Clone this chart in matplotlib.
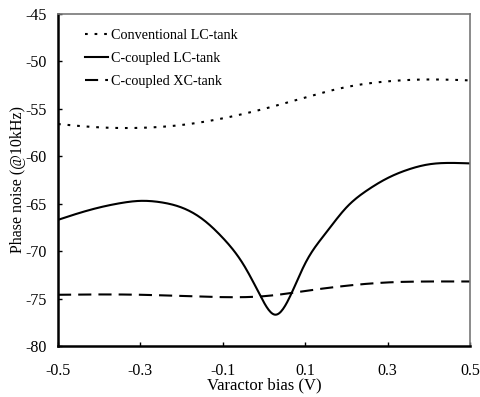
import matplotlib.pyplot as plt
import numpy as np

plt.rcParams['font.family'] = ['Liberation Serif', 'DejaVu Serif']

# conventional LC-tank (dotted)
x_conv = [-0.5, -0.4, -0.3, -0.2, -0.1, 0.0, 0.1, 0.2, 0.3, 0.4, 0.5]
y_conv = [-56.6, -56.95, -57.0, -56.7, -56.0, -55.0, -53.8, -52.7, -52.1, -51.9, -52.0]

# C-coupled LC-tank (solid)
x_lc = [-0.5, -0.45, -0.4, -0.35, -0.3, -0.25, -0.2, -0.15, -0.1, -0.05, -0.01,
        0.027, 0.063, 0.1, 0.15, 0.2, 0.25, 0.3, 0.35, 0.4, 0.45, 0.5]
y_lc = [-66.7, -66.0, -65.4, -64.95, -64.7, -64.85, -65.4, -66.6, -68.6, -71.4, -74.6,
        -76.7, -74.8, -71.3, -68.1, -65.4, -63.6, -62.3, -61.4, -60.85, -60.7, -60.75]

# C-coupled XC-tank (dashed)
x_xc = [-0.5, -0.3, -0.1, 0.0, 0.1, 0.2, 0.3, 0.4, 0.5]
y_xc = [-74.6, -74.6, -74.85, -74.75, -74.2, -73.65, -73.3, -73.2, -73.2]


def spline(x, y, n=400):
    # natural cubic spline through the points (like a smoothed line)
    x = np.asarray(x, float)
    y = np.asarray(y, float)
    m = len(x)
    h = np.diff(x)
    A = np.zeros((m, m))
    r = np.zeros(m)
    A[0, 0] = A[-1, -1] = 1
    for i in range(1, m - 1):
        A[i, i - 1] = h[i - 1]
        A[i, i] = 2 * (h[i - 1] + h[i])
        A[i, i + 1] = h[i]
        r[i] = 6 * ((y[i + 1] - y[i]) / h[i] - (y[i] - y[i - 1]) / h[i - 1])
    M = np.linalg.solve(A, r)
    xs = np.linspace(x[0], x[-1], n)
    k = np.clip(np.searchsorted(x, xs) - 1, 0, m - 2)
    t0 = xs - x[k]
    t1 = x[k + 1] - xs
    hk = h[k]
    ys = (M[k] * t1 ** 3 + M[k + 1] * t0 ** 3) / (6 * hk) \
        + (y[k] / hk - M[k] * hk / 6) * t1 + (y[k + 1] / hk - M[k + 1] * hk / 6) * t0
    return xs, ys


fig = plt.figure(figsize=(4.81, 3.97), dpi=100)
ax = fig.add_axes([0.1206, 0.1285, 0.977 - 0.1206, 0.9647 - 0.1285])

xs, ys = spline(x_conv, y_conv)
ax.plot(xs, ys, color='black', lw=1.5, linestyle=(0, (1.3, 3.3)), label='Conventional LC-tank')
xs, ys = spline(x_lc, y_lc)
ax.plot(xs, ys, color='black', lw=1.5, label='C-coupled LC-tank')
xs, ys = spline(x_xc, y_xc)
ax.plot(xs, ys, color='black', lw=1.5, linestyle=(0, (6.3, 3.4)), label='C-coupled XC-tank')

ax.set_xlim(-0.5, 0.5)
ax.set_ylim(-80, -45)
ax.set_xticks([-0.5, -0.3, -0.1, 0.1, 0.3, 0.5])
ax.set_xticklabels(['-0.5', '-0.3', '-0.1', '0.1', '0.3', '0.5'])
ax.set_yticks(np.arange(-80, -44, 5))
ax.set_yticklabels([str(v) for v in range(-80, -44, 5)])
ax.tick_params(axis='x', direction='in', length=3, width=1, labelsize=11.5, pad=12)
ax.tick_params(axis='y', direction='in', length=3, width=1, labelsize=11.5, pad=8)

for s in ['left', 'bottom']:
    ax.spines[s].set_linewidth(1.8)
    ax.spines[s].set_color('black')
for s in ['top', 'right']:
    ax.spines[s].set_linewidth(1.2)
    ax.spines[s].set_color('#777777')

ax.set_xlabel('Varactor bias (V)', fontsize=12, labelpad=-1)
ax.set_ylabel('Phase noise (@10kHz)', fontsize=11.5, labelpad=0)

ax.legend(loc='upper left', frameon=False, fontsize=10.2, handlelength=1.6,
          handletextpad=0.2, labelspacing=0.72, borderaxespad=0.6,
          borderpad=0.45, bbox_to_anchor=(0.03, 1.0))

fig.savefig('out.png', dpi=100)
